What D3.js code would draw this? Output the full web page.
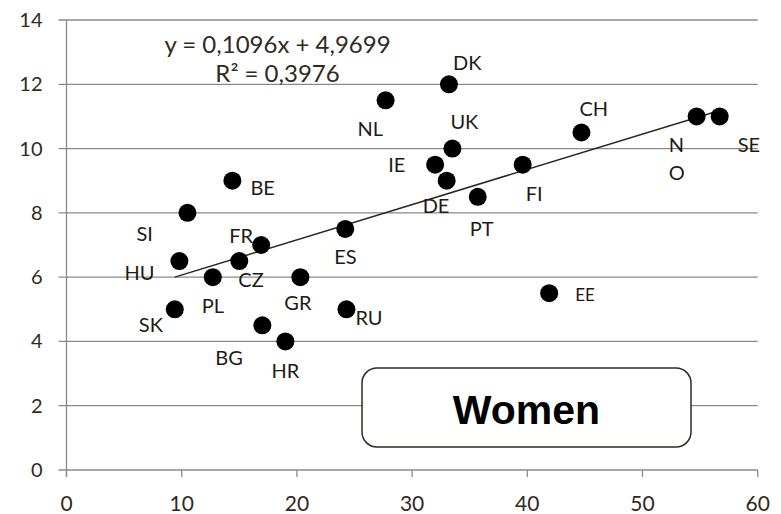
<!DOCTYPE html>
<html>
<head>
<meta charset="utf-8">
<script src="https://cdn.jsdelivr.net/npm/d3@7"></script>
<style>
  body { margin: 0; background: #fff; }
  svg { display: block; }
</style>
</head>
<body>
<div id="chart"></div>
<script>
// data
const countries = ["NL", "BE", "SI", "FR", "ES", "DK", "UK", "IE", "DE", "PT", "FI", "CH",
                   "NO", "SE", "HU", "CZ", "PL", "GR", "SK", "RU", "BG", "HR", "EE"];
const xValues = [27.7, 14.4, 10.5, 16.9, 24.2, 33.2, 33.5, 32.0, 33.0, 35.7, 39.6, 44.7,
                 54.7, 56.7, 9.8, 15.0, 12.7, 20.3, 9.4, 24.3, 17.0, 19.0, 41.9];
const yValues = [11.5, 9.0, 8.0, 7.0, 7.5, 12.0, 10.0, 9.5, 9.0, 8.5, 9.5, 10.5,
                 11.0, 11.0, 6.5, 6.5, 6.0, 6.0, 5.0, 5.0, 4.5, 4.0, 5.5];
const xTicks = [0, 10, 20, 30, 40, 50, 60];
const yTicks = [0, 2, 4, 6, 8, 10, 12, 14];
const slope = 0.1096, intercept = 4.9699;
const equationLines = ["y = 0,1096x + 4,9699", "R² = 0,3976"];
const panelTitle = "Women";

// label placement (offset of label start / baseline from the dot)
const labelOffset = {
  NL: [-28, 36], BE: [18, 14], SI: [-51, 28], FR: [-32, -2], ES: [-11, 35],
  DK: [4, -14], UK: [-2, -20], IE: [-47, 7], DE: [-24, 32], PT: [-8, 39],
  FI: [3, 36], CH: [-2, -17], NO: [-28, 36], SE: [18, 36], HU: [-55, 19],
  CZ: [-1, 26], PL: [-11, 36], GR: [-16, 33], SK: [-36, 23], RU: [9, 16],
  BG: [-47, 40], HR: [-14, 37], EE: [26, 8]
};

const W = 781, H = 514;
const margin = { top: 20, right: 23.3, bottom: 44, left: 66.5 },
      width = W - margin.left - margin.right,
      height = H - margin.top - margin.bottom;

const font = "Lato, 'Open Sans', sans-serif";
const textColor = "#2f2a22";
const gridColor = "#8a8a8a";

const svg = d3.select("#chart")
  .append("svg")
  .attr("width", W)
  .attr("height", H)
  .append("g")
  .attr("transform", `translate(${margin.left},${margin.top})`);

const x = d3.scaleLinear().domain([0, 60]).range([0, width]);
const y = d3.scaleLinear().domain([0, 14]).range([height, 0]);

// horizontal gridlines
svg.append("g")
  .selectAll("line")
  .data(yTicks)
  .enter()
  .append("line")
  .attr("x1", -8)
  .attr("x2", width)
  .attr("y1", d => y(d))
  .attr("y2", d => y(d))
  .attr("stroke", gridColor)
  .attr("stroke-width", 1.3);

// y axis line
svg.append("line")
  .attr("x1", 0).attr("x2", 0)
  .attr("y1", 0).attr("y2", height + 7)
  .attr("stroke", gridColor)
  .attr("stroke-width", 1.3);

// x ticks
svg.append("g")
  .selectAll("line")
  .data(xTicks)
  .enter()
  .append("line")
  .attr("x1", d => x(d))
  .attr("x2", d => x(d))
  .attr("y1", height)
  .attr("y2", height + 7)
  .attr("stroke", gridColor)
  .attr("stroke-width", 1.3);

// tick labels
svg.append("g")
  .selectAll("text")
  .data(yTicks)
  .enter()
  .append("text")
  .attr("x", -24)
  .attr("y", d => y(d) + 7)
  .attr("text-anchor", "end")
  .attr("font-family", font)
  .attr("font-size", "20px")
  .attr("fill", textColor)
  .text(d => d);

svg.append("g")
  .selectAll("text")
  .data(xTicks)
  .enter()
  .append("text")
  .attr("x", d => x(d))
  .attr("y", height + 41)
  .attr("text-anchor", "middle")
  .attr("font-family", font)
  .attr("font-size", "21px")
  .attr("fill", textColor)
  .text(d => d);

// trendline
const xExt = d3.extent(xValues);
svg.append("line")
  .attr("x1", x(xExt[0]))
  .attr("y1", y(slope * xExt[0] + intercept))
  .attr("x2", x(xExt[1]))
  .attr("y2", y(slope * xExt[1] + intercept))
  .attr("stroke", "#2b2620")
  .attr("stroke-width", 1.5);

// equation
svg.append("g")
  .selectAll("text")
  .data(equationLines)
  .enter()
  .append("text")
  .attr("x", 211)
  .attr("y", (d, i) => 33 + i * 29)
  .attr("text-anchor", "middle")
  .attr("font-family", font)
  .attr("font-size", "24px")
  .attr("fill", textColor)
  .text(d => d);

// points
const points = countries.map((c, i) => ({ c, x: xValues[i], y: yValues[i] }));

svg.append("g")
  .selectAll("circle")
  .data(points)
  .enter()
  .append("circle")
  .attr("cx", d => x(d.x))
  .attr("cy", d => y(d.y))
  .attr("r", 9)
  .attr("fill", "#000");

// point labels
const labels = svg.append("g")
  .selectAll("text")
  .data(points)
  .enter()
  .append("text")
  .attr("x", d => x(d.x) + labelOffset[d.c][0])
  .attr("y", d => y(d.y) + labelOffset[d.c][1])
  .attr("font-family", font)
  .attr("font-size", d => d.c === "EE" ? "17px" : "20px")
  .attr("fill", "#1e1a15");

labels.each(function(d) {
  const t = d3.select(this);
  if (d.c === "NO") {
    // wrapped label, one letter per line
    d.c.split("").forEach((ch, i) => {
      t.append("tspan")
        .attr("x", x(d.x) + labelOffset[d.c][0])
        .attr("dy", i === 0 ? 0 : 28)
        .text(ch);
    });
  } else {
    t.text(d.c);
  }
});

// panel title box
const box = svg.append("g").attr("transform", `translate(${362 - margin.left},${368 - margin.top})`);
box.append("rect")
  .attr("width", 329)
  .attr("height", 79)
  .attr("rx", 15)
  .attr("fill", "#fff")
  .attr("stroke", "#2f2a22")
  .attr("stroke-width", 1.5);
box.append("text")
  .attr("x", 329 / 2)
  .attr("y", 56)
  .attr("text-anchor", "middle")
  .attr("font-family", "'Liberation Sans', Arial, sans-serif")
  .attr("font-weight", "bold")
  .attr("font-size", "41px")
  .attr("fill", "#000")
  .text(panelTitle);
</script>
</body>
</html>
